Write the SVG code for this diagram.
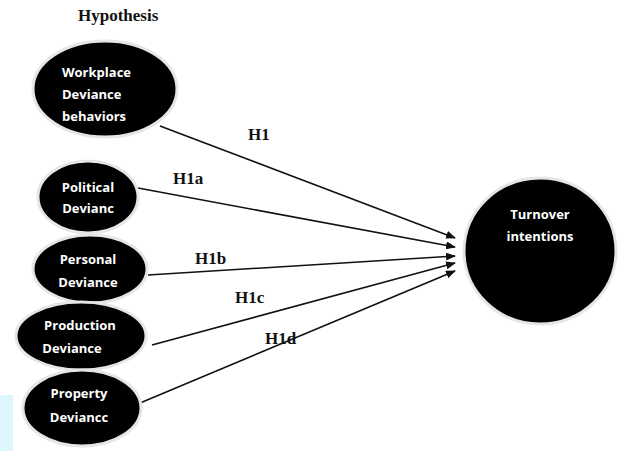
<svg xmlns="http://www.w3.org/2000/svg" width="621" height="451" viewBox="0 0 621 451">
<style>
.node{fill:#000;stroke:#e6e6e6;stroke-width:3}
.nt{fill:#fff;font-family:"Open Sans","Liberation Sans",sans-serif;font-weight:bold;font-size:13px}
.lbl{fill:#111;font-family:"Liberation Serif",serif;font-weight:bold;font-size:17px}
.edge{stroke:#111;stroke-width:1.6;fill:none;marker-end:url(#ah)}
</style>
<defs>
<marker id="ah" markerWidth="10" markerHeight="8" refX="9" refY="4" orient="auto" markerUnits="userSpaceOnUse">
<path d="M0,0 L10,4 L0,8 Z" fill="#111"/>
</marker>
</defs>
<rect width="621" height="451" fill="#fff"/>
<rect x="0" y="395" width="13" height="56" fill="#dcf6fc"/>
<text class="lbl" x="78" y="21">Hypothesis</text>
<g id="connectors">
<line class="edge" x1="160" y1="126" x2="455" y2="238"/>
<line class="edge" x1="138" y1="188" x2="455" y2="247"/>
<line class="edge" x1="148" y1="275" x2="455" y2="256"/>
<line class="edge" x1="152" y1="345" x2="455" y2="263"/>
<line class="edge" x1="140" y1="403" x2="455" y2="271"/>
<text class="lbl" x="248" y="140">H1</text>
<text class="lbl" x="173" y="184">H1a</text>
<text class="lbl" x="195" y="264">H1b</text>
<text class="lbl" x="235" y="303">H1c</text>
<text class="lbl" x="265" y="344">H1d</text>
</g>
<g id="workplace">
<ellipse class="node" cx="105" cy="89" rx="72" ry="48"/>
<text class="nt" x="62" y="77">Workplace</text>
<text class="nt" x="62" y="99">Deviance</text>
<text class="nt" x="62" y="121">behaviors</text>
</g>
<g id="political">
<ellipse class="node" cx="88" cy="197" rx="50" ry="36"/>
<text class="nt" x="88" y="192" text-anchor="middle">Political</text>
<text class="nt" x="88" y="213" text-anchor="middle">Devianc</text>
</g>
<g id="personal">
<ellipse class="node" cx="90" cy="269" rx="57" ry="34"/>
<text class="nt" x="88" y="264" text-anchor="middle">Personal</text>
<text class="nt" x="88" y="287" text-anchor="middle">Deviance</text>
</g>
<g id="production">
<ellipse class="node" cx="81" cy="336" rx="65" ry="34"/>
<text class="nt" x="80" y="330" text-anchor="middle">Production</text>
<text class="nt" x="72" y="353" text-anchor="middle">Deviance</text>
</g>
<g id="property">
<ellipse class="node" cx="82" cy="408" rx="59" ry="38"/>
<text class="nt" x="79" y="398" text-anchor="middle">Property</text>
<text class="nt" x="79" y="422" text-anchor="middle">Deviancc</text>
</g>
<g id="turnover">
<ellipse class="node" cx="540" cy="251" rx="76" ry="73"/>
<text class="nt" x="540" y="219" text-anchor="middle">Turnover</text>
<text class="nt" x="540" y="241" text-anchor="middle">intentions</text>
</g>
</svg>
